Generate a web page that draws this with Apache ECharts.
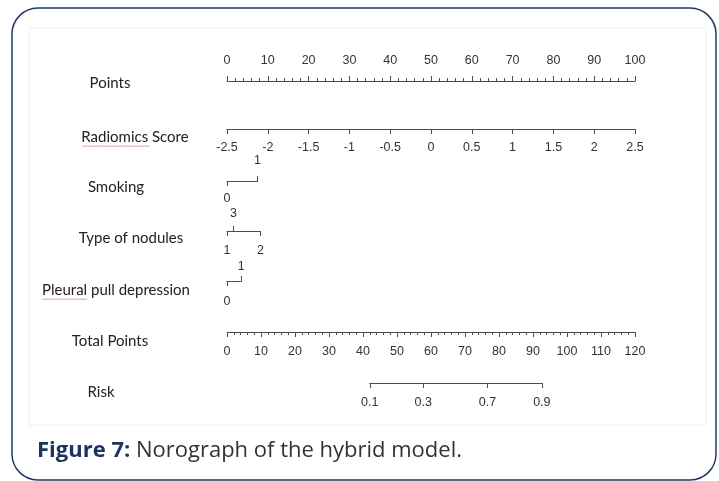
<!DOCTYPE html>
<html>
<head>
<meta charset="utf-8">
<style>
  html, body { margin: 0; padding: 0; background: #fff; }
  #chart { width: 719px; height: 481px; }
</style>
<script src="https://cdn.jsdelivr.net/npm/echarts@6.0.0/dist/echarts.min.js"></script>
</head>
<body>
<div id="chart"></div>
<script>
// nomogram of the hybrid model
const rowNames = ["Points", "Radiomics Score", "Smoking", "Type of nodules",
                  "Pleural pull depression", "Total Points", "Risk"];

const pointsRange = [0, 100];
const radiomicsRange = [-2.5, 2.5];
const smokingLevels = ["0", "1"];
const smokingPoints = [0, 7.5];
const noduleLevels = ["1", "3", "2"];
const nodulePoints = [0, 1.6, 8.2];
const pleuralLevels = ["0", "1"];
const pleuralPoints = [0, 3.5];
const totalRange = [0, 120];
const riskLabels = ["0.1", "0.3", "0.7", "0.9"];
const riskTotals = [42, 57.7, 76.6, 92.6];

// layout
const X0 = 227, PTS_W = 408;                 // 0..100 points span
const pxPt = PTS_W / (pointsRange[1] - pointsRange[0]);
const pxTot = PTS_W / (totalRange[1] - totalRange[0]);
const rowY = [81, 129, 181, 231, 281, 332, 383];
const labelPos = [[110, 83], [135, 137], [116, 187], [131, 238], [116, 290], [110, 341], [101, 392]];

const AXIS = "#4d4d4d";
const TICK_FONT = { color: "#333", fontFamily: "Liberation Sans, Arial, sans-serif", fontSize: 12.5 };

const grids = [], xAxes = [], yAxes = [];

function addGrid(y, left, width) {
  grids.push({ left, top: y, width, height: 0, containLabel: false, outerBoundsMode: "none" });
  yAxes.push({ gridIndex: grids.length - 1, show: false, min: 0, max: 1 });
  return grids.length - 1;
}

function axis(gi, pos, min, max, extra) {
  const a = {
    type: "value", gridIndex: gi, position: pos, min, max,
    axisLine: { show: true, onZero: false, lineStyle: { color: AXIS, width: 1 } },
    axisTick: { show: true, length: 5, lineStyle: { color: AXIS, width: 1 } },
    axisLabel: { ...TICK_FONT, margin: 12 },
    splitLine: { show: false },
  };
  for (const k in extra) a[k] = typeof extra[k] === "object" && !Array.isArray(extra[k])
    ? { ...a[k], ...extra[k] } : extra[k];
  xAxes.push(a);
}

// Points
let g = addGrid(rowY[0], X0, PTS_W);
axis(g, "top", pointsRange[0], pointsRange[1], {
  interval: 10,
  axisLabel: { margin: 14 },
  minorTick: { show: true, splitNumber: 5, length: 3, lineStyle: { color: AXIS } },
});

// Radiomics score
g = addGrid(rowY[1], X0, PTS_W);
axis(g, "bottom", radiomicsRange[0], radiomicsRange[1], { interval: 0.5, axisLabel: { margin: 12 } });

// categorical rows: labels alternate below / above in point order
function catRow(y, levels, pts, marginBelow, marginAbove) {
  const order = pts.map((p, i) => i).sort((a, b) => pts[a] - pts[b]);
  const below = order.filter((_, k) => k % 2 === 0).map(i => pts[i]);
  const above = order.filter((_, k) => k % 2 === 1).map(i => pts[i]);
  const lo = Math.min(...pts), hi = Math.max(...pts);
  const gi = addGrid(y, X0 + lo * pxPt, (hi - lo) * pxPt);
  const fmt = v => levels[pts.indexOf(v)];
  axis(gi, "bottom", lo, hi, {
    axisTick: { customValues: below },
    axisLabel: { customValues: below, formatter: fmt, margin: marginBelow },
  });
  axis(gi, "top", lo, hi, {
    axisLine: { show: false },
    axisTick: { customValues: above },
    axisLabel: { customValues: above, formatter: fmt, margin: marginAbove },
  });
}
catRow(rowY[2], smokingLevels, smokingPoints, 11, 14);
catRow(rowY[3], noduleLevels, nodulePoints, 13, 11);
catRow(rowY[4], pleuralLevels, pleuralPoints, 14, 8);

// Total points
g = addGrid(rowY[5], X0, PTS_W);
axis(g, "bottom", totalRange[0], totalRange[1], {
  interval: 10,
  axisLabel: { margin: 13 },
  minorTick: { show: true, splitNumber: 5, length: 3, lineStyle: { color: AXIS } },
});

// Risk (placed on the total-points scale)
g = addGrid(rowY[6], X0 + riskTotals[0] * pxTot, (riskTotals[riskTotals.length - 1] - riskTotals[0]) * pxTot);
axis(g, "bottom", riskTotals[0], riskTotals[riskTotals.length - 1], {
  axisTick: { customValues: riskTotals },
  axisLabel: { customValues: riskTotals, formatter: v => riskLabels[riskTotals.indexOf(v)], margin: 13 },
});

// spell-check squiggles under two row names (they are in the source image)
function squiggle(x1, x2, y) {
  const p = [];
  for (let x = x1, k = 0; x <= x2; x += 1.5, k++) p.push([x, y + (k % 2 ? 1 : -0.5)]);
  return { type: "polyline", shape: { points: p }, style: { stroke: "#d77", lineWidth: 0.8, fill: null }, silent: true };
}

const graphics = [
  { type: "rect", shape: { x: 12, y: 8, width: 704, height: 472, r: 26 },
    style: { fill: null, stroke: "#233a66", lineWidth: 1.5 } },
  { type: "rect", shape: { x: 29, y: 28, width: 677, height: 397 },
    style: { fill: null, stroke: "#efefef", lineWidth: 1 } },
  ...rowNames.map((name, i) => ({
    type: "text", x: labelPos[i][0], y: labelPos[i][1],
    style: { text: name, align: "center", verticalAlign: "middle",
             font: "15px Lato, sans-serif", fill: "#222" },
  })),
  squiggle(82, 150, 146),
  squiggle(42, 88, 299),
  { type: "text", x: 37, y: 451,
    style: {
      text: "{b|Figure 7:}{n| Norograph of the hybrid model.}",
      verticalAlign: "middle",
      rich: {
        b: { font: "bold 22px 'Open Sans', sans-serif", fill: "#1d3461" },
        n: { font: "22px 'Open Sans', sans-serif", fill: "#333" },
      },
    } },
];

const chart = echarts.init(document.getElementById("chart"), null, { renderer: "canvas" });
chart.setOption({
  animation: false,
  backgroundColor: "#fff",
  grid: grids,
  xAxis: xAxes,
  yAxis: yAxes,
  series: [],
  graphic: graphics,
});
</script>
</body>
</html>
